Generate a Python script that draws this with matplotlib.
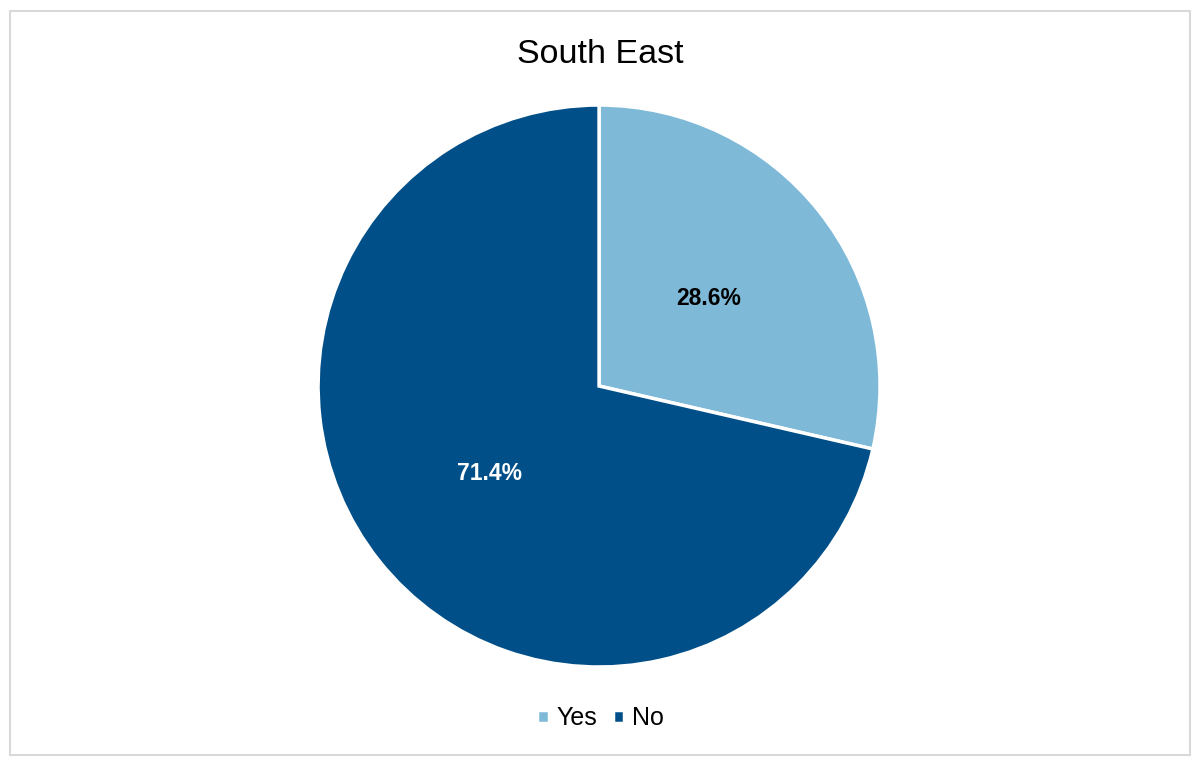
import matplotlib.pyplot as plt
from matplotlib.patches import Rectangle

plt.rcParams['font.family'] = ['Liberation Sans', 'DejaVu Sans']

labels = ['Yes', 'No']
values = [28.6, 71.4]
colors = ['#7fb9d8', '#004f88']

fig = plt.figure(figsize=(12.01, 7.65), dpi=100)
ax = fig.add_axes([0.2648, 0.1281, 0.468, 0.7346])

wedges, texts, autotexts = ax.pie(values, colors=colors, startangle=90, counterclock=False,
                                  autopct='%.1f%%', pctdistance=0.5,
                                  wedgeprops=dict(edgecolor='white', linewidth=2.5))
for t, c in zip(autotexts, ['black', 'white']):
    t.set_color(c)
    t.set_fontsize(16.5)
    t.set_fontweight('bold')
ax.set_xlim(-1, 1)
ax.set_ylim(-1, 1)
ax.set_aspect('equal')

fig.text(0.5, 0.929, 'South East', ha='center', va='center', fontsize=24.5)

fig.legend(wedges, labels, loc='center', bbox_to_anchor=(0.5, 0.061), ncol=2, frameon=False,
           fontsize=18, handlelength=0.45, handleheight=0.45, handletextpad=0.3, columnspacing=0.65)

fig.patches.append(Rectangle((9.5 / 1201, 10.5 / 765), 1180 / 1201, 744 / 765, transform=fig.transFigure,
                             fill=False, edgecolor='#d9d9d9', linewidth=1.5))

fig.savefig('out.png', dpi=100)
